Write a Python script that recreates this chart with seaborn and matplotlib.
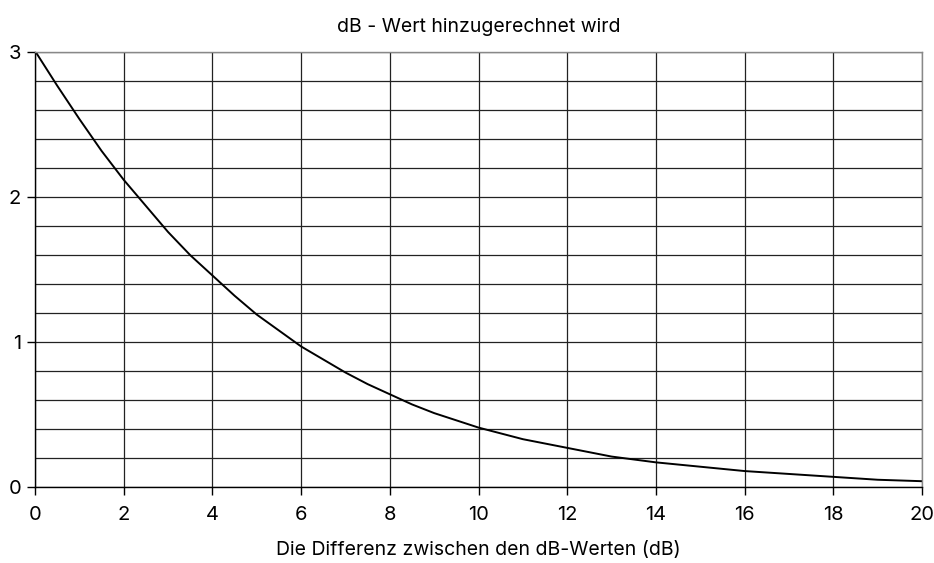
import numpy as np
import pandas as pd
import seaborn as sns
import matplotlib.pyplot as plt
from matplotlib.ticker import MultipleLocator

# values
diff_db = [0, 0.5, 1, 1.5, 2, 2.5, 3, 3.5, 4, 4.5, 5, 5.5, 6, 6.5, 7, 7.5, 8, 8.5, 9, 9.5, 10,
           11, 12, 13, 14, 15, 16, 17, 18, 19, 20]
added_db = [3.01, 2.77, 2.54, 2.32, 2.12, 1.94, 1.76, 1.60, 1.46, 1.32, 1.19, 1.08, 0.97, 0.88,
            0.79, 0.71, 0.64, 0.57, 0.51, 0.46, 0.41, 0.33, 0.27, 0.21, 0.17, 0.14, 0.11,
            0.09, 0.07, 0.05, 0.04]

x_ticks = list(range(0, 21, 2))
y_ticks = [0, 1, 2, 3]

sns.set_theme(style="white")
plt.rcParams['font.family'] = ['Inter', 'DejaVu Sans']
plt.rcParams['text.color'] = 'black'
plt.rcParams['axes.labelcolor'] = 'black'
plt.rcParams['xtick.color'] = 'black'
plt.rcParams['ytick.color'] = 'black'

df = pd.DataFrame({"diff": diff_db, "add": added_db})

fig = plt.figure(figsize=(9.34, 5.63), dpi=100)
ax = fig.add_axes([0.0375, 0.135, 0.9497, 0.772])

sns.lineplot(data=df, x="diff", y="add", ax=ax, color="black", linewidth=1.4)

ax.set_xlim(0, 20)
ax.set_ylim(0, 3)
ax.set_xticks(x_ticks)
ax.set_yticks(y_ticks)
ax.yaxis.set_minor_locator(MultipleLocator(0.2))
ax.grid(True, which="both", axis="y", color="#222222", linewidth=0.9)
ax.grid(True, which="major", axis="x", color="#222222", linewidth=0.9)
ax.set_axisbelow(True)

for side in ["left", "bottom"]:
    ax.spines[side].set_color("black")
    ax.spines[side].set_linewidth(1.0)
for side in ["top", "right"]:
    ax.spines[side].set_color("#888888")
    ax.spines[side].set_linewidth(1.0)

ax.tick_params(axis="both", which="major", direction="out", length=6, width=1,
               color="black", labelsize=14.5)
ax.tick_params(axis="x", pad=8)
ax.tick_params(axis="y", pad=4)
ax.tick_params(axis="y", which="minor", length=0)
ax.tick_params(axis="x", bottom=True)
ax.tick_params(axis="y", left=True)

ax.set_xlabel("Die Differenz zwischen den dB-Werten (dB)", fontsize=14, labelpad=12)
ax.set_ylabel("")
ax.set_title("dB - Wert hinzugerechnet wird", fontsize=14, pad=15)

plt.savefig("out.png", dpi=100)
plt.close()
